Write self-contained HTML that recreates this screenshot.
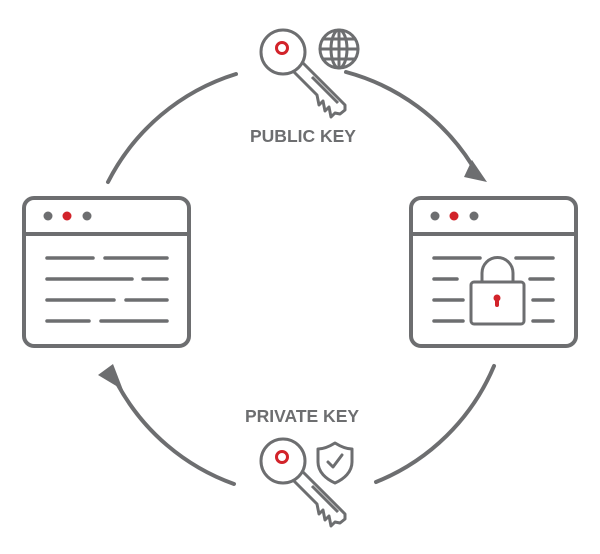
<!DOCTYPE html>
<html><head><style>html,body{margin:0;padding:0;background:#fff}svg{display:block}</style></head>
<body>
<svg width="600" height="554" viewBox="0 0 600 554" xmlns="http://www.w3.org/2000/svg">
<defs>
<g id="key" fill="none" stroke="#6d6e70" stroke-width="3" stroke-linejoin="round">
<circle cx="0" cy="0" r="22"/>
<path d="M20 11 L62 53 L62 58 L57 62 L52 61 L48 65 L46 55 L42 59 L40 49 L36 53 L34 43 L11 20"/>
<line x1="29" y1="25" x2="55" y2="51"/>
</g>
</defs>
<g fill="none" stroke="#6d6e70" stroke-width="4" stroke-linecap="round" stroke-linejoin="round">
<path d="M108 182 A215 215 0 0 1 236 74"/>
<path d="M346 72 A215 215 0 0 1 472 165"/>
<path d="M494 366 A215 215 0 0 1 376 482"/>
<path d="M234 484 A215 215 0 0 1 118 385"/>
<rect x="24" y="198" width="165" height="148" rx="10"/>
<line x1="24" y1="234" x2="189" y2="234"/>
<g stroke-width="3.5">
<line x1="47" y1="258" x2="93" y2="258"/><line x1="105" y1="258" x2="167" y2="258"/>
<line x1="47" y1="279" x2="132" y2="279"/><line x1="143" y1="279" x2="167" y2="279"/>
<line x1="47" y1="300" x2="114" y2="300"/><line x1="126" y1="300" x2="167" y2="300"/>
<line x1="47" y1="321" x2="89" y2="321"/><line x1="101" y1="321" x2="167" y2="321"/>
</g>
<rect x="411" y="198" width="165" height="148" rx="10"/>
<line x1="411" y1="234" x2="576" y2="234"/>
<g stroke-width="3.5">
<line x1="434" y1="258" x2="480" y2="258"/><line x1="516" y1="258" x2="553" y2="258"/>
<line x1="434" y1="279" x2="457" y2="279"/><line x1="530" y1="279" x2="553" y2="279"/>
<line x1="434" y1="300" x2="463" y2="300"/><line x1="533" y1="300" x2="553" y2="300"/>
<line x1="434" y1="321" x2="463" y2="321"/><line x1="533" y1="321" x2="553" y2="321"/>
</g>
<rect x="471" y="282" width="53" height="42" rx="3" stroke-width="3"/>
<path d="M482 282 V273 A15.5 15.5 0 0 1 513 273 V282" stroke-width="3"/>
<g stroke-width="3">
<circle cx="339" cy="49" r="19"/>
<ellipse cx="339" cy="49" rx="8" ry="19"/>
<line x1="339" y1="30" x2="339" y2="68"/>
<line x1="320" y1="49" x2="358" y2="49"/>
<line x1="323" y1="39" x2="355" y2="39"/>
<line x1="323" y1="59" x2="355" y2="59"/>
<path d="M335 443 C327 448 322 449 318 449 V462 C318 472 326 479 335 483 C344 479 352 472 352 462 V449 C348 449 343 448 335 443 Z"/>
<path d="M328 462 L333 467 L342 455"/>
</g>
</g>
<use href="#key" transform="translate(283,52)"/>
<use href="#key" transform="translate(283,461)"/>
<polygon points="472,160 487,182 464,177" fill="#6d6e70"/>
<polygon points="98,375 113,364 123,390" fill="#6d6e70"/>
<g fill="none" stroke="#d2232a" stroke-width="3">
<circle cx="282" cy="48" r="5.5"/>
<circle cx="282" cy="457" r="5.5"/>
</g>
<g fill="#d2232a">
<circle cx="67" cy="216" r="4.5"/><circle cx="454" cy="216" r="4.5"/>
<circle cx="497" cy="298" r="3.5"/><rect x="495" y="298" width="4" height="9" rx="2"/>
</g>
<g fill="#6d6e70">
<circle cx="48" cy="216" r="4.5"/><circle cx="87" cy="216" r="4.5"/>
<circle cx="435" cy="216" r="4.5"/><circle cx="474" cy="216" r="4.5"/>
</g>
<g font-family="Liberation Sans, sans-serif" font-weight="bold" font-size="17.5" fill="#6d6e70" text-anchor="middle">
<text x="303" y="142">PUBLIC KEY</text>
<text x="302" y="422">PRIVATE KEY</text>
</g>
</svg>
</body></html>
